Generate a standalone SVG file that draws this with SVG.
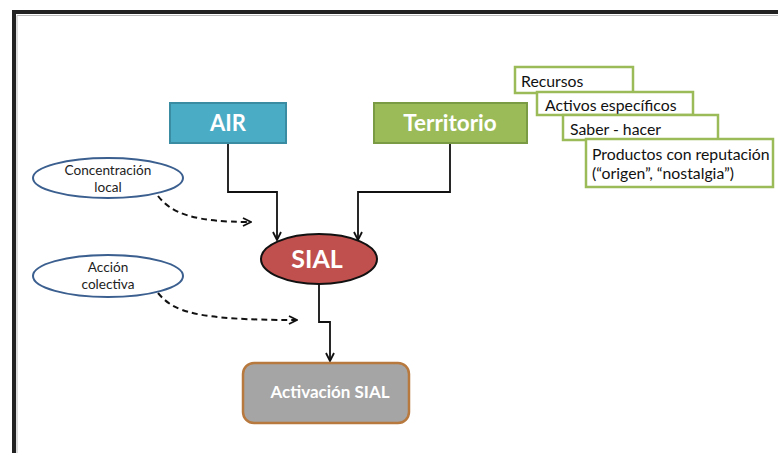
<svg xmlns="http://www.w3.org/2000/svg" width="778" height="453" viewBox="0 0 778 453">
<defs>
<style>
.t{font-family:Lato,"Open Sans","Liberation Sans",sans-serif;}
.w{fill:#fff;font-weight:bold;text-anchor:middle;}
.k{fill:#111;font-size:15.8px;}
.e{fill:#222;font-size:13.6px;text-anchor:middle;}
.stk{fill:#fff;stroke:#9BBB59;stroke-width:2.5;}
.oval{fill:#fff;stroke:#3B5F8F;stroke-width:2;}
.ln{fill:none;stroke:#111;stroke-width:1.8;}
.dash{fill:none;stroke:#111;stroke-width:2;stroke-dasharray:6 4;}
</style>
<marker id="arr" viewBox="0 0 10 10" refX="9" refY="5" markerWidth="10" markerHeight="10" markerUnits="userSpaceOnUse" orient="auto">
<path d="M1,1 L9,5 L1,9" fill="none" stroke="#111" stroke-width="1.8"/>
</marker>
</defs>
<rect x="0" y="0" width="778" height="453" fill="#fff"/>
<rect x="14" y="12" width="800" height="500" fill="#fff" stroke="#222" stroke-width="4"/>
<path d="M17,460 V15.5 H790" fill="none" stroke="#bbb" stroke-width="1"/>

<g id="connectors">
<path class="ln" d="M228,143 V192 H277 V240" marker-end="url(#arr)"/>
<path class="ln" d="M450,143 V192 H358 V240" marker-end="url(#arr)"/>
<path class="ln" d="M319,284 V322 H330 V361" marker-end="url(#arr)"/>
<path class="dash" d="M158,196 C172,214 195,222 251,222" marker-end="url(#arr)"/>
<path class="dash" d="M158,293 C174,312 195,320 297,320" marker-end="url(#arr)"/>
</g>

<g id="air">
<rect x="170" y="103" width="116" height="40" fill="#4BACC6" stroke="#3A8CA3" stroke-width="2"/>
<text class="t w" x="228" y="131" font-size="22">AIR</text>
</g>
<g id="territorio">
<rect x="374" y="103" width="153" height="40" fill="#9BBB59" stroke="#7A9A44" stroke-width="2"/>
<text class="t w" x="450" y="131" font-size="22.5">Territorio</text>
</g>

<g id="recursos">
<rect class="stk" x="515" y="67" width="118" height="26"/>
<text class="t k" x="521" y="87">Recursos</text>
</g>
<g id="activos">
<rect class="stk" x="537" y="92" width="156" height="23"/>
<text class="t k" x="545" y="111">Activos específicos</text>
</g>
<g id="saber">
<rect class="stk" x="563" y="115" width="155" height="25"/>
<text class="t k" x="570" y="135">Saber - hacer</text>
</g>
<g id="productos">
<rect class="stk" x="586" y="139" width="187" height="48"/>
<text class="t k" x="592" y="160">Productos con reputación</text>
<text class="t k" x="592" y="179">(“origen”, “nostalgia”)</text>
</g>

<g id="concentracion">
<ellipse class="oval" cx="108" cy="178" rx="75" ry="20"/>
<text class="t e" x="108" y="175">Concentración</text>
<text class="t e" x="108" y="192">local</text>
</g>
<g id="accion">
<ellipse class="oval" cx="108" cy="276" rx="75" ry="21"/>
<text class="t e" x="108" y="272">Acción</text>
<text class="t e" x="108" y="289">colectiva</text>
</g>

<g id="sial">
<ellipse cx="319" cy="259" rx="58" ry="25" fill="#C0504D" stroke="#111" stroke-width="2"/>
<text class="t w" x="317" y="268" font-size="25">SIAL</text>
</g>

<g id="activacion">
<rect x="243" y="363" width="166" height="60" rx="11" fill="#A5A5A5" stroke="#B8793F" stroke-width="2.5"/>
<text class="t w" x="330" y="398" font-size="17">Activación SIAL</text>
</g>
</svg>
